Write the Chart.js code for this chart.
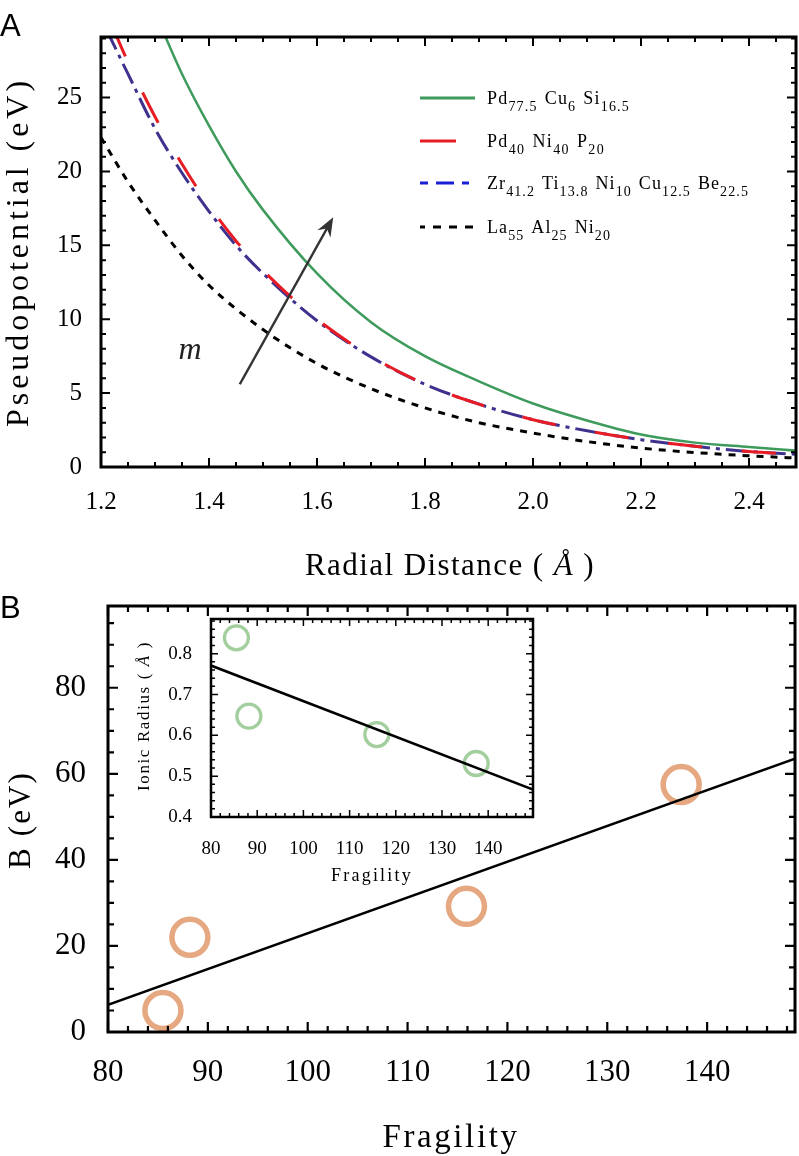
<!DOCTYPE html>
<html>
<head>
<meta charset="utf-8">
<title>Pseudopotential and fragility</title>
<script src="https://cdn.jsdelivr.net/npm/chart.js@4.4.1/dist/chart.umd.min.js"></script>
<style>
  body { margin: 0; background: #fff; }
  canvas { position: absolute; }
</style>
</head>
<body>
<canvas id="chartA" width="799" height="590" style="left:0;top:0"></canvas>
<canvas id="chartB" width="799" height="566" style="left:0;top:590px"></canvas>
<canvas id="inset" width="440" height="290" style="left:110px;top:600px"></canvas>
<script>
// ---- panel A: pseudopotential (eV) against radial distance (Å) ----
const rGreen = [1.31, 1.35, 1.4, 1.45, 1.5, 1.6, 1.7, 1.8, 1.9, 2.0, 2.1, 2.2, 2.3, 2.4, 2.49];
const vGreen = [29.9, 26.6, 23.1, 20.0, 17.4, 13.1, 9.8, 7.5, 5.8, 4.3, 3.15, 2.2, 1.65, 1.35, 1.1];
const rRed = [1.22, 1.25, 1.3, 1.35, 1.4, 1.45, 1.5, 1.6, 1.7, 1.8, 1.9, 2.0, 2.1, 2.2, 2.3, 2.4, 2.49];
const vRed = [29.9, 27.4, 23.7, 20.5, 17.7, 15.3, 13.3, 10.0, 7.5, 5.6, 4.25, 3.2, 2.45, 1.85, 1.4, 1.05, 0.85];
const rBlue = [1.21, 1.25, 1.3, 1.35, 1.4, 1.45, 1.5, 1.6, 1.7, 1.8, 1.9, 2.0, 2.1, 2.2, 2.3, 2.4, 2.49];
const vBlue = [29.6, 26.6, 22.9, 19.9, 17.3, 15.0, 13.1, 9.9, 7.45, 5.6, 4.25, 3.2, 2.45, 1.85, 1.4, 1.05, 0.85];
const rBlack = [1.2, 1.25, 1.3, 1.35, 1.4, 1.5, 1.6, 1.7, 1.8, 1.9, 2.0, 2.1, 2.2, 2.3, 2.4, 2.49];
const vBlack = [22.3, 19.3, 16.7, 14.3, 12.3, 9.3, 7.0, 5.3, 4.0, 3.0, 2.3, 1.72, 1.28, 0.98, 0.76, 0.6];

// legend entries: [element, subscript]
const legendRows = [
  [['Pd', '77.5'], ['Cu', '6'], ['Si', '16.5']],
  [['Pd', '40'], ['Ni', '40'], ['P', '20']],
  [['Zr', '41.2'], ['Ti', '13.8'], ['Ni', '10'], ['Cu', '12.5'], ['Be', '22.5']],
  [['La', '55'], ['Al', '25'], ['Ni', '20']]
];
// arrow "m" in data units (Å, eV)
const arrowFrom = [1.457, 5.6];
const arrowTo = [1.63, 16.9];
const mLabelAt = [1.365, 7.9];

// ---- panel B: B (eV) against fragility, inset ionic radius ----
const fragility = [85.5, 88.2, 115.9, 137.4];
const bValue = [5.0, 22.0, 29.2, 57.5];
const bFitX = [80, 148.8];
const bFitY = [6.3, 63.5];
const ionicRadius = [0.839, 0.647, 0.602, 0.531];
const rFitX = [80, 149.7];
const rFitY = [0.771, 0.467];

const SERIF = '"Liberation Serif", "Times New Roman", serif';
const SANS = '"Liberation Sans", Arial, sans-serif';
const GREEN = 'rgb(62,155,92)';
const RED = 'rgb(232,28,36)';
const NAVY = 'rgb(62,50,142)';

const pts = (xs, ys) => xs.map((x, i) => ({x: x, y: ys[i]}));
const label = row => row.map(p => p[0] + p[1]).join(' ');

// draw text runs (with fonts / offsets), stretched to a given width
function drawRuns(ctx, runs, x, y, width) {
  ctx.letterSpacing = '0px';
  let natural = 0, chars = 0;
  runs.forEach(r => {
    ctx.font = r.font;
    r.w = ctx.measureText(r.t).width;
    natural += r.w + (r.gap || 0);
    chars += r.t.length;
  });
  const ls = width ? (width - natural) / chars : 0;
  ctx.letterSpacing = ls + 'px';
  let cx = x;
  runs.forEach(r => {
    ctx.font = r.font;
    ctx.fillText(r.t, cx, y + (r.dy || 0));
    cx += r.w + ls * r.t.length + (r.gap || 0);
  });
  ctx.letterSpacing = '0px';
}

function drawTitle(ctx, runs, cx, cy, width, rot) {
  ctx.save();
  ctx.translate(cx, cy);
  if (rot) ctx.rotate(rot);
  ctx.fillStyle = '#000';
  ctx.textAlign = 'left';
  ctx.textBaseline = 'middle';
  drawRuns(ctx, runs, -width / 2, 0, width);
  ctx.restore();
}

// frame with inward ticks on all four sides
const boxPlugin = {
  id: 'box',
  beforeDraw(chart, args, o) {
    if (!o.fill) return;
    const a = chart.chartArea, ctx = chart.ctx;
    ctx.save();
    ctx.fillStyle = o.fill;
    ctx.fillRect(a.left, a.top, a.width, a.height);
    ctx.restore();
  },
  afterDatasetsDraw(chart, args, o) {
    const {ctx, chartArea: a} = chart;
    const {x, y} = chart.scales;
    const isMajor = (v, step) => Math.abs(v / step - Math.round(v / step)) < 1e-6;
    ctx.save();
    ctx.strokeStyle = '#000';
    ctx.lineWidth = o.tickWidth;
    ctx.beginPath();
    for (let i = 0; ; i++) {
      const v = x.min + i * o.xMinor;
      if (v > x.max + 1e-9) break;
      const p = x.getPixelForValue(v);
      const len = isMajor(v, o.xMajor) ? o.major : o.minor;
      ctx.moveTo(p, a.bottom); ctx.lineTo(p, a.bottom - len);
      ctx.moveTo(p, a.top); ctx.lineTo(p, a.top + len);
    }
    for (let i = 0; ; i++) {
      const v = y.min + i * o.yMinor;
      if (v > y.max + 1e-9) break;
      const p = y.getPixelForValue(v);
      const len = isMajor(v, o.yMajor) ? o.major : o.minor;
      ctx.moveTo(a.left, p); ctx.lineTo(a.left + len, p);
      ctx.moveTo(a.right, p); ctx.lineTo(a.right - len, p);
    }
    ctx.stroke();
    ctx.lineWidth = o.frameWidth;
    ctx.strokeRect(a.left, a.top, a.width, a.height);
    ctx.restore();
  }
};

function axis(min, max, step, size, pad, fit, digits) {
  return {
    type: 'linear', min: min, max: max,
    grid: {display: false}, border: {display: false},
    ticks: {
      stepSize: step, includeBounds: false, autoSkip: false, maxRotation: 0,
      padding: pad, color: '#000', font: {family: SERIF, size: size},
      callback: v => digits === undefined ? String(Math.round(v)) : v.toFixed(digits)
    },
    afterFit: fit
  };
}
const fitX = h => s => { s.height = h; s.paddingLeft = 0; s.paddingRight = 0; };
const fitY = w => s => { s.width = w; s.paddingTop = 0; s.paddingBottom = 0; };

// ---------------- chart A ----------------
const annotA = {
  id: 'annotA',
  afterDraw(chart) {
    const ctx = chart.ctx, {x, y} = chart.scales;
    ctx.save();
    ctx.fillStyle = '#000';
    ctx.textBaseline = 'alphabetic';
    ctx.font = `31px ${SANS}`;
    ctx.fillText('A', 0, 36);

    drawTitle(ctx, [{t: 'Pseudopotential (eV)', font: `32px ${SERIF}`}], 20, 252, 350, -Math.PI / 2);
    drawTitle(ctx, [
      {t: 'Radial Distance ( ', font: `31px ${SERIF}`},
      {t: 'Å', font: `italic 31px ${SERIF}`},
      {t: ' )', font: `31px ${SERIF}`}
    ], 450, 567, 290, 0);

    // legend
    const legendY = [98, 141, 183, 227];
    const legendW = [143, 118, 262, 124];
    const samples = [
      {color: GREEN, dash: [], off: 0, end: 475},
      {color: RED, dash: [], off: 0, end: 456},
      {color: 'rgb(25,30,215)', dash: [18, 8], off: 10, end: 469},
      {color: '#000', dash: [8, 8], off: 3, end: 475}
    ];
    legendRows.forEach((row, i) => {
      const s = samples[i], ly = legendY[i];
      ctx.strokeStyle = s.color;
      ctx.lineWidth = 3;
      ctx.setLineDash(s.dash);
      ctx.lineDashOffset = s.off;
      ctx.beginPath(); ctx.moveTo(420, ly); ctx.lineTo(s.end, ly); ctx.stroke();
      ctx.setLineDash([]);
      const runs = [];
      row.forEach(([el, sub], k) => {
        runs.push({t: el, font: `18px ${SERIF}`});
        runs.push({t: sub, font: `14px ${SERIF}`, dy: 7, gap: k < row.length - 1 ? 7 : 0});
      });
      ctx.fillStyle = '#000';
      drawRuns(ctx, runs, 487, ly + 6, legendW[i]);
    });

    // arrow and m
    const x0 = x.getPixelForValue(arrowFrom[0]), y0 = y.getPixelForValue(arrowFrom[1]);
    const x1 = x.getPixelForValue(arrowTo[0]), y1 = y.getPixelForValue(arrowTo[1]);
    const ang = Math.atan2(y1 - y0, x1 - x0);
    ctx.strokeStyle = '#333';
    ctx.fillStyle = '#333';
    ctx.lineWidth = 2.5;
    ctx.beginPath();
    ctx.moveTo(x0, y0);
    ctx.lineTo(x1 - 12 * Math.cos(ang), y1 - 12 * Math.sin(ang));
    ctx.stroke();
    ctx.translate(x1, y1);
    ctx.rotate(ang);
    ctx.beginPath();
    ctx.moveTo(0, 0); ctx.lineTo(-19, -7.5); ctx.lineTo(-13, 0); ctx.lineTo(-19, 7.5);
    ctx.closePath(); ctx.fill();
    ctx.setTransform(1, 0, 0, 1, 0, 0);
    ctx.fillStyle = '#222';
    ctx.font = `italic 32px ${SERIF}`;
    ctx.textAlign = 'center';
    ctx.textBaseline = 'middle';
    ctx.fillText('m', x.getPixelForValue(mLabelAt[0]), y.getPixelForValue(mLabelAt[1]));
    ctx.restore();
  }
};

new Chart(document.getElementById('chartA'), {
  type: 'scatter',
  data: {
    datasets: [
      {label: label(legendRows[0]), data: pts(rGreen, vGreen), borderColor: GREEN, borderWidth: 2.5},
      {label: label(legendRows[1]), data: pts(rRed, vRed), borderColor: RED, borderWidth: 3, borderDash: [34, 40]},
      {label: label(legendRows[2]), data: pts(rBlue, vBlue), borderColor: NAVY, borderWidth: 3, borderDash: [22, 6, 4, 6]},
      {label: label(legendRows[3]), data: pts(rBlack, vBlack), borderColor: '#000', borderWidth: 3, borderDash: [7, 7]}
    ].map(d => Object.assign(d, {showLine: true, pointRadius: 0, cubicInterpolationMode: 'monotone', clip: 0}))
  },
  options: {
    responsive: false, animation: false, devicePixelRatio: 1,
    layout: {autoPadding: false, padding: {left: 41, top: 37, right: 3, bottom: 63}},
    scales: {
      x: axis(1.2, 2.487, 0.2, 25, 12, fitX(60), 1),
      y: axis(0, 29.1, 5, 25, 11, fitY(60))
    },
    plugins: {
      legend: {display: false}, tooltip: {enabled: false},
      box: {xMinor: 0.05, xMajor: 0.2, yMinor: 1, yMajor: 5, major: 9, minor: 5, tickWidth: 2, frameWidth: 3}
    }
  },
  plugins: [boxPlugin, annotA]
});

// ---------------- chart B ----------------
const annotB = {
  id: 'annotB',
  afterDraw(chart) {
    const ctx = chart.ctx;
    ctx.save();
    ctx.fillStyle = '#000';
    ctx.textBaseline = 'alphabetic';
    ctx.font = `31px ${SANS}`;
    ctx.fillText('B', 0, 28);
    drawTitle(ctx, [{t: 'B (eV)', font: `31px ${SERIF}`}], 22, 230, 98, -Math.PI / 2);
    drawTitle(ctx, [{t: 'Fragility', font: `33px ${SERIF}`}], 451, 548, 137, 0);
    ctx.restore();
  }
};

new Chart(document.getElementById('chartB'), {
  type: 'scatter',
  data: {
    datasets: [
      {label: 'fit', data: pts(bFitX, bFitY), showLine: true, borderColor: '#000', borderWidth: 2.5, pointRadius: 0},
      {label: 'B', data: pts(fragility, bValue), showLine: false, pointRadius: 18, borderWidth: 5.5,
        borderColor: 'rgb(229,168,128)', backgroundColor: 'rgba(0,0,0,0)', clip: false}
    ]
  },
  options: {
    responsive: false, animation: false, devicePixelRatio: 1,
    layout: {autoPadding: false, padding: {left: 48, top: 16, right: 4, bottom: 64}},
    scales: {
      x: axis(80, 148.8, 10, 31, 14, fitX(60)),
      y: axis(0, 99, 20, 31, 14, fitY(60))
    },
    plugins: {
      legend: {display: false}, tooltip: {enabled: false},
      box: {xMinor: 2, xMajor: 10, yMinor: 5, yMajor: 20, major: 10, minor: 6, tickWidth: 2.2, frameWidth: 3}
    }
  },
  plugins: [boxPlugin, annotB]
});

// ---------------- inset ----------------
const annotIn = {
  id: 'annotIn',
  afterDraw(chart) {
    const ctx = chart.ctx;
    drawTitle(ctx, [
      {t: 'Ionic Radius ( ', font: `17px ${SERIF}`},
      {t: 'Å', font: `italic 17px ${SERIF}`},
      {t: ' )', font: `17px ${SERIF}`}
    ], 35, 116, 150, -Math.PI / 2);
    drawTitle(ctx, [{t: 'Fragility', font: `18px ${SERIF}`}], 262, 276, 82, 0);
  }
};

new Chart(document.getElementById('inset'), {
  type: 'scatter',
  data: {
    datasets: [
      {label: 'fit', data: pts(rFitX, rFitY), showLine: true, borderColor: '#000', borderWidth: 2.5, pointRadius: 0},
      {label: 'Ionic radius', data: pts(fragility, ionicRadius), showLine: false, pointRadius: 12, borderWidth: 3.3,
        borderColor: 'rgb(163,206,158)', backgroundColor: 'rgba(0,0,0,0)'}
    ]
  },
  options: {
    responsive: false, animation: false, devicePixelRatio: 1,
    layout: {autoPadding: false, padding: {left: 41, top: 19, right: 17, bottom: 33}},
    scales: {
      x: axis(80, 149.7, 10, 19, 13, fitX(40)),
      y: axis(0.4, 0.885, 0.1, 19, 11, fitY(60), 1)
    },
    plugins: {
      legend: {display: false}, tooltip: {enabled: false},
      box: {xMinor: 2, xMajor: 10, yMinor: 0.02, yMajor: 0.1, major: 7, minor: 4, tickWidth: 1.5, frameWidth: 2.5, fill: '#fff'}
    }
  },
  plugins: [boxPlugin, annotIn]
});
</script>
</body>
</html>
